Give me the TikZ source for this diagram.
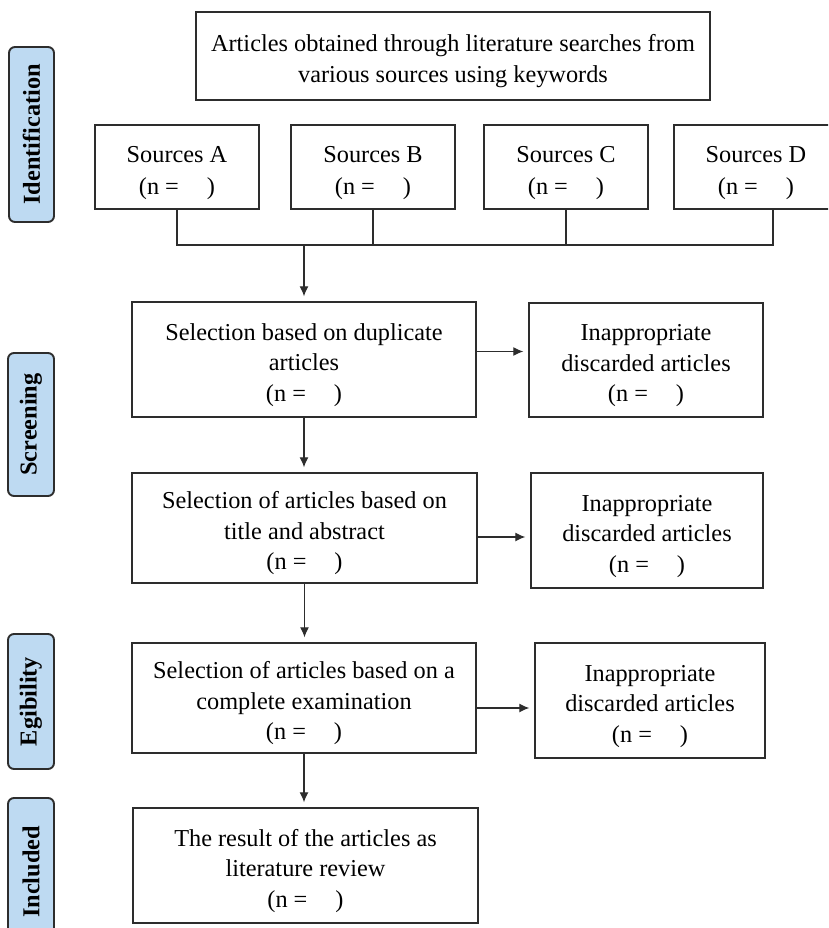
\documentclass[tikz,border=0pt]{standalone}
\usepackage{fontspec}
\setmainfont{Liberation Serif}
\usetikzlibrary{arrows.meta}
\definecolor{sideblue}{RGB}{190,218,242}
\definecolor{linegray}{RGB}{45,45,45}
\tikzset{
  box/.style={draw=linegray, line width=1.4pt, fill=white, inner sep=0pt,
    font=\fontsize{24.3}{30.5}\selectfont},
  srcbox/.style={box, font=\fontsize{24.3}{32}\selectfont},
  side/.style={draw=linegray, line width=1.9pt, fill=sideblue, rounded corners=6pt,
    rotate=90, inner sep=0pt, font=\bfseries\fontsize{24.3}{26}\selectfont},
  conn/.style={line width=1.1pt, draw=linegray},
  arr/.style={conn, -{Latex[length=10pt,width=9pt]}, shorten >=5pt}
}
\newcommand{\nn}{(n =\hspace{28pt})}
\newcommand{\bx}[1]{\raisebox{-5pt}[\height][\depth]{\begin{tabular}{@{}c@{}}#1\end{tabular}}}
\begin{document}
\begin{tikzpicture}[x=1pt,y=-1pt]
\clip (0,0) rectangle (828,928);
\fill[white] (0,0) rectangle (828,928);

% side labels
\node[side, minimum width=175pt, minimum height=45pt] (sid) at (31.5,134.5) {Identification};
\node[side, minimum width=143pt, minimum height=46pt] (sscr) at (31,424.5) {Screening};
\node[side, minimum width=135pt, minimum height=46pt] (segi) at (31,701.5) {Egibility};
\node[side, minimum width=148pt, minimum height=46pt] (sinc) at (31,872) {Included};

% top
\node[box, minimum width=514pt, minimum height=88pt] (top) at (453,56)
  {\bx{Articles obtained through literature searches from\\ various sources using keywords}};

% sources
\node[srcbox, minimum width=164pt, minimum height=84pt] (A) at (177,167) {\bx{Sources A\\ \nn}};
\node[srcbox, minimum width=164pt, minimum height=84pt] (B) at (373,167) {\bx{Sources B\\ \nn}};
\node[srcbox, minimum width=164pt, minimum height=84pt] (C) at (566,167) {\bx{Sources C\\ \nn}};
\node[srcbox, minimum width=164pt, minimum height=84pt] (D) at (756,167) {\bx{Sources D\\ \nn}};

% main column
\node[box, minimum width=344pt, minimum height=115pt] (S1) at (304,359.5)
  {\bx{Selection based on duplicate\\ articles\\ \nn}};
\node[box, minimum width=345pt, minimum height=110pt] (S2) at (304.5,528)
  {\bx{Selection of articles based on\\ title and abstract\\ \nn}};
\node[box, minimum width=344pt, minimum height=110pt] (S3) at (304,698)
  {\bx{Selection of articles based on a\\ complete examination\\ \nn}};
\node[box, minimum width=345pt, minimum height=115pt] (S4) at (305.5,865.5)
  {\bx{The result of the articles as\\ literature review\\ \nn}};

% discarded
\node[box, minimum width=234pt, minimum height=114pt] (R1) at (646,360)
  {\bx{Inappropriate\\ discarded articles\\ \nn}};
\node[box, minimum width=232pt, minimum height=115pt] (R2) at (647,530.5)
  {\bx{Inappropriate\\ discarded articles\\ \nn}};
\node[box, minimum width=230pt, minimum height=115pt] (R3) at (650,700.5)
  {\bx{Inappropriate\\ discarded articles\\ \nn}};

% merge connector
\coordinate (hA) at (177,245);
\coordinate (hD) at (773,245);
\coordinate (j) at (304,245);
\draw[conn] (A.south) -- (hA) -- (hD) -- (D.south -| hD);
\draw[conn] (B.south) -- (B.south |- hA);
\draw[conn] (C.south) -- (C.south |- hA);
\draw[arr] (j) -- (j |- S1.north);

% vertical arrows
\draw[arr] (S1.south) -- (S1.south |- S2.north);
\draw[arr] (S2.south) -- (S2.south |- S3.north);
\draw[arr] (S3.south) -- (S3.south |- S4.north);

% horizontal arrows
\draw[arr] ([yshift=8pt]S1.east) -- ([yshift=8pt]S1.east -| R1.west);
\draw[arr] ([yshift=-9pt]S2.east) -- ([yshift=-9pt]S2.east -| R2.west);
\draw[arr] ([yshift=-10pt]S3.east) -- ([yshift=-10pt]S3.east -| R3.west);
\end{tikzpicture}
\end{document}
